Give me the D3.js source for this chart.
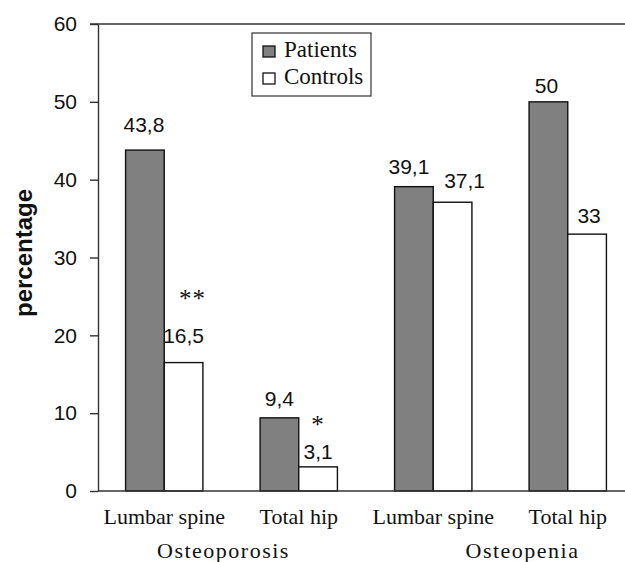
<!DOCTYPE html>
<html>
<head>
<meta charset="utf-8">
<script src="https://cdn.jsdelivr.net/npm/d3@7"></script>
<style>
  html, body { margin: 0; padding: 0; background: #fff; }
  svg { display: block; }
  .sans { font-family: "Liberation Sans", Arial, sans-serif; }
  .serif { font-family: "Liberation Serif", "Times New Roman", serif; }
</style>
</head>
<body>
<div id="chart"></div>
<script>
  //Chart data
  var categories = ['Lumbar spine', 'Total hip', 'Lumbar spine ', 'Total hip '];
  var groups = ['Osteoporosis', 'Osteopenia'];
  var patients = [43.8, 9.4, 39.1, 50];
  var controls = [16.5, 3.1, 37.1, 33];
  var significance = ['**', '*', '', ''];
  var yTicks = [0, 10, 20, 30, 40, 50, 60];

  //Label nudges (layout only)
  var patientLift = [18, 12, 13, 9], controlLift = [20, 8, 14, 11];
  var patientShift = [-1, 0, -5, -2], controlShift = [0, 0, 12, 2];
  var starLift = [56, 34, 0, 0], starShift = [9, 0, 0, 0];

  var width = 625, height = 562;
  var svg = d3.select('#chart').append('svg').attr('width', width).attr('height', height);

  var x = d3.scaleBand().domain(categories).range([97, 635]).paddingInner(0.425).paddingOuter(0.2125);
  var xs = d3.scaleBand().domain(['Patients', 'Controls']).range([0, x.bandwidth()]);
  var y = d3.scaleLinear().domain([0, 60]).range([491, 24]);
  var fmt = function(v){ return String(v).replace('.', ','); };

  //Y axis
  var yAxis = svg.append('g').attr('transform', 'translate(98,0)')
    .call(d3.axisLeft(y).tickValues(yTicks).tickSize(8).tickSizeOuter(0).tickPadding(13));
  yAxis.selectAll('path, line').attr('stroke', '#333').attr('stroke-width', 1.4);
  yAxis.selectAll('text').attr('class', 'sans').attr('font-size', 21).attr('fill', '#111').attr('font-family', null);

  //Top frame line
  svg.append('line').attr('x1', 90).attr('x2', width).attr('y1', y(60)).attr('y2', y(60)).attr('stroke', '#333').attr('stroke-width', 1.4);

  //Bars
  var rows = categories.map(function(c, i){
    return [
      { cat: c, key: 'Patients', v: patients[i], lift: patientLift[i], shift: patientShift[i] },
      { cat: c, key: 'Controls', v: controls[i], lift: controlLift[i], shift: controlShift[i] }
    ];
  });
  var g = svg.selectAll('.grp').data(rows).enter().append('g').attr('class', 'grp')
    .attr('transform', function(d){ return 'translate(' + x(d[0].cat) + ',0)'; });
  g.selectAll('rect').data(function(d){ return d; }).enter().append('rect')
    .attr('x', function(d){ return xs(d.key); })
    .attr('y', function(d){ return y(d.v); })
    .attr('width', xs.bandwidth())
    .attr('height', function(d){ return y(0) - y(d.v); })
    .attr('fill', function(d){ return d.key == 'Patients' ? '#808080' : '#fff'; })
    .attr('stroke', '#111').attr('stroke-width', 1.4);
  g.selectAll('.val').data(function(d){ return d; }).enter().append('text').attr('class', 'val sans')
    .attr('x', function(d){ return xs(d.key) + xs.bandwidth() / 2 + d.shift; })
    .attr('y', function(d){ return y(d.v) - d.lift; })
    .attr('text-anchor', 'middle').attr('font-size', 21).attr('fill', '#111')
    .text(function(d){ return fmt(d.v); });

  //Significance stars (above the control bars)
  svg.selectAll('.sig').data(categories).enter().append('text').attr('class', 'sig serif')
    .attr('x', function(d, i){ return x(d) + xs('Controls') + xs.bandwidth() / 2 + starShift[i]; })
    .attr('y', function(d, i){ return y(controls[i]) - starLift[i]; })
    .attr('text-anchor', 'middle').attr('font-size', 25).attr('fill', '#111')
    .attr('letter-spacing', 1)
    .text(function(d, i){ return significance[i]; });

  //X axis line
  svg.append('line').attr('x1', 98).attr('x2', width).attr('y1', y(0)).attr('y2', y(0)).attr('stroke', '#333').attr('stroke-width', 1.4);

  //Category labels
  svg.selectAll('.cat').data(categories).enter().append('text').attr('class', 'cat serif')
    .attr('x', function(d){ return x(d) + x.bandwidth() / 2; })
    .attr('y', 524).attr('text-anchor', 'middle').attr('font-size', 22).attr('fill', '#111')
    .text(function(d){ return d.trim(); });

  //Group labels
  var groupX = [
    (x(categories[0]) + x(categories[1]) + x.bandwidth()) / 2 - 8,
    (x(categories[2]) + x(categories[3]) + x.bandwidth()) / 2 + 22
  ];
  svg.selectAll('.grplbl').data(groups).enter().append('text').attr('class', 'grplbl serif')
    .attr('x', function(d, i){ return groupX[i]; })
    .attr('y', 558).attr('text-anchor', 'middle').attr('font-size', 22).attr('fill', '#111')
    .attr('letter-spacing', 1.5)
    .text(function(d){ return d; });

  //Y axis title
  svg.append('text').attr('class', 'sans')
    .attr('transform', 'translate(32,253) rotate(-90)')
    .attr('text-anchor', 'middle').attr('font-size', 24).attr('font-weight', 'bold').attr('fill', '#111')
    .text('percentage');

  //Legend
  var legend = svg.append('g').attr('transform', 'translate(252,33)');
  legend.append('rect').attr('width', 119).attr('height', 63).attr('fill', '#fff').attr('stroke', '#333').attr('stroke-width', 1.2);
  var litem = legend.selectAll('.item').data(['Patients', 'Controls']).enter().append('g').attr('class', 'item')
    .attr('transform', function(d, i){ return 'translate(0,' + (24 + i * 27) + ')'; });
  litem.append('rect').attr('x', 11).attr('y', -11).attr('width', 12).attr('height', 11)
    .attr('fill', function(d){ return d == 'Patients' ? '#808080' : '#fff'; })
    .attr('stroke', '#111').attr('stroke-width', 1.3);
  litem.append('text').attr('class', 'serif').attr('x', 32).attr('y', 0)
    .attr('font-size', 23).attr('fill', '#111').text(function(d){ return d; });
</script>
</body>
</html>
